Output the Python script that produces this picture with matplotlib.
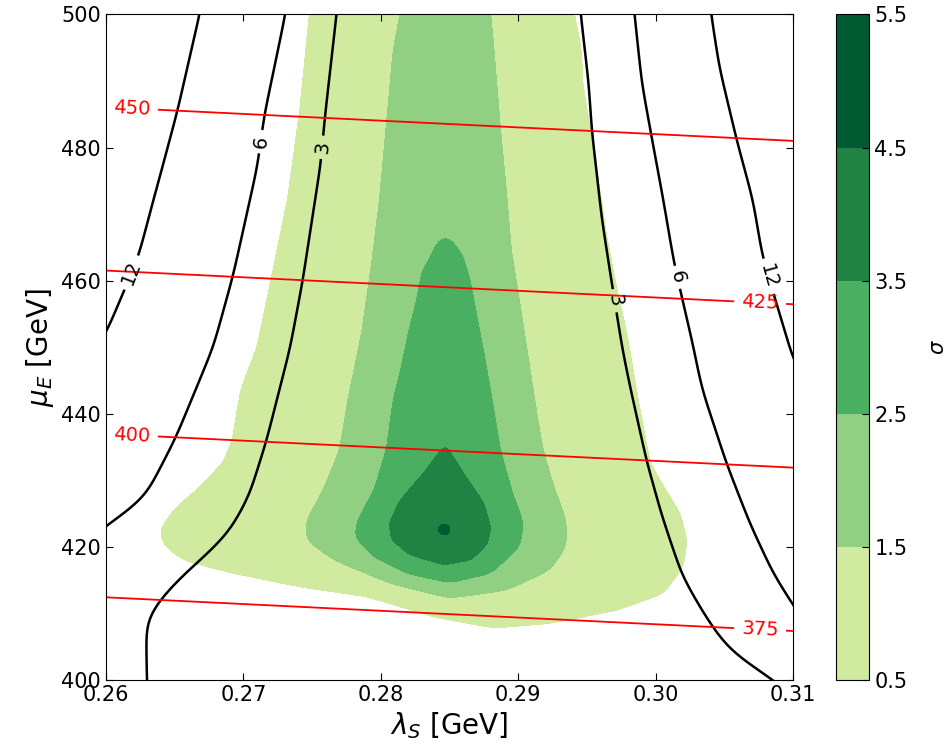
import numpy as np
import matplotlib
matplotlib.use('Agg')
import matplotlib.pyplot as plt
from matplotlib.path import Path

# --- significance regions (sigma), outlines ---
sig_levels = [0.5, 1.5, 2.5, 3.5, 4.5, 5.5]
sig_colors = ['#d0eba0', '#91d083', '#4baf62', '#208343', '#005a32']

s1_x = [0.2750, 0.2748, 0.2741, 0.2732, 0.2722, 0.2710, 0.2698, 0.2692, 0.2685, 0.2668,
        0.2649, 0.2639, 0.2641, 0.2656, 0.2693, 0.2741, 0.2790, 0.2838, 0.2882, 0.2923,
        0.2972, 0.3006, 0.3020, 0.3023, 0.3018, 0.3006, 0.2996, 0.2986, 0.2980, 0.2971,
        0.2964, 0.2957, 0.2951, 0.2947, 0.2946, 0.2941, 0.2939]
s1_y = [504, 500, 485.6, 472.1, 462.1, 450.1, 443.6, 436.1, 432.6, 429.0,
        425.5, 422.5, 420.5, 418.0, 416.0, 414.0, 412.5, 409.5, 407.8, 408.5,
        410.5, 413.0, 417.0, 421.0, 425.0, 429.0, 432.6, 443.6, 451.1, 459.6,
        467.1, 477.1, 484.6, 489.7, 494.7, 500, 504]

s2_x = [0.2816, 0.2814, 0.2809, 0.2805, 0.2799, 0.2793, 0.2786, 0.2776, 0.2770, 0.2758,
        0.2745, 0.2746, 0.2766, 0.2807, 0.2850, 0.2892, 0.2923, 0.2935, 0.2935, 0.2926,
        0.2918, 0.2912, 0.2902, 0.2895, 0.2892, 0.2887, 0.2882, 0.2880, 0.2878]
s2_y = [504, 500, 494.7, 485.6, 472.1, 462.1, 452.1, 442.1, 434.6, 428.5,
        423.5, 421.0, 418.0, 414.5, 412.3, 413.5, 416.5, 420.0, 424.0, 429.0,
        434.6, 442.1, 455.6, 464.6, 472.1, 483.1, 495.7, 500, 504]

s3_x = [0.2847, 0.2842, 0.2836, 0.2830, 0.2826, 0.2820, 0.2815, 0.2809, 0.2804, 0.2795,
        0.2783, 0.2781, 0.2795, 0.2819, 0.2850, 0.2880, 0.2901, 0.2904, 0.2896, 0.2887,
        0.2881, 0.2876, 0.2870, 0.2865, 0.2860, 0.2852]
s3_y = [466.8, 466.0, 463.6, 461.4, 457.1, 452.1, 447.1, 442.1, 434.6, 428.5,
        424.0, 421.5, 418.5, 416.0, 414.6, 416.0, 420.0, 423.5, 428.0, 434.6,
        442.1, 448.1, 454.6, 460.1, 463.6, 466.0]

s4_x = [0.2847, 0.2831, 0.2814, 0.2806, 0.2808, 0.2821, 0.2846, 0.2865, 0.2878, 0.2880,
        0.2875, 0.2862]
s4_y = [435.4, 431.1, 427.0, 423.5, 421.0, 418.8, 417.3, 418.0, 420.5, 423.0,
        426.6, 430.5]

s5_x = [0.28462, 0.28494, 0.28507, 0.28494, 0.28462, 0.28430, 0.28417, 0.28430]
s5_y = [423.45, 423.2, 422.6, 422.0, 421.75, 422.0, 422.6, 423.2]

# --- black contours (3, 6, 12), left and right branches, (y, x) ---
l12_y = [396, 420, 440, 452.1, 463.6, 472.1, 485.6, 500, 504]
l12_x = [0.2400, 0.2500, 0.2563, 0.2601, 0.2625, 0.2636, 0.2654, 0.2670, 0.2674]
l6_y = [396, 415, 423.8, 427.5, 436.6, 450.1, 460.6, 477.1, 484.9, 500, 504]
l6_x = [0.2470, 0.2540, 0.2600, 0.2627, 0.2650, 0.2677, 0.2691, 0.2709, 0.2714, 0.2730, 0.2733]
l3_y = [396, 400, 407.5, 409.5, 412.0, 416.0, 419.0, 422.5, 428.1, 436.1, 450.1, 460.1,
        477.6, 484.4, 500, 504]
l3_x = [0.2629, 0.2628, 0.2627, 0.2628, 0.2636, 0.2654, 0.2671, 0.2688, 0.2702, 0.2714,
        0.2731, 0.2740, 0.2753, 0.2756, 0.2764, 0.2766]
r3_y = [396, 400.3, 402.8, 405.0, 410.0, 416.0, 425.0, 433.1, 446.1, 450.1, 459.1, 469.6,
        482.6, 489.7, 500, 504]
r3_x = [0.3125, 0.3093, 0.3074, 0.3057, 0.3040, 0.3023, 0.3008, 0.2997, 0.2983, 0.2979,
        0.2972, 0.2964, 0.2957, 0.2955, 0.2949, 0.2947]
r6_y = [396, 411.5, 416.0, 423.5, 432.6, 443.6, 450.1, 458.1, 462.6, 472.1, 482.1, 489.7, 500, 504]
r6_x = [0.3150, 0.3100, 0.3086, 0.3069, 0.3052, 0.3035, 0.3029, 0.3020, 0.3015, 0.3007,
        0.2998, 0.2991, 0.2986, 0.2984]
r12_y = [396, 420, 440, 447.3, 456.1, 463.6, 472.1, 481.1, 492.2, 500, 504]
r12_x = [0.3250, 0.3190, 0.3125, 0.3100, 0.3087, 0.3076, 0.3069, 0.3057, 0.3044, 0.3038, 0.3036]
chi_levels = [3, 6, 12]
chi_label_pos = [(0.2620, 461.1), (0.2712, 480.9), (0.2754, 480.1),
                 (0.2974, 457.1), (0.3018, 460.6), (0.3081, 460.6)]

# --- red lines (mass contours): y where each crosses x=0.26 and x=0.31 ---
red_levels = [375, 400, 425, 450]
red_y_left = [412.5, 436.8, 461.6, 486.1]
red_y_right = [407.4, 431.9, 456.45, 481.0]
red_label_pos = [(0.2619, 486.0), (0.2619, 436.8), (0.3076, 456.6), (0.3076, 407.6)]

# grid
gx = np.linspace(0.2575, 0.3125, 700)
gy = np.linspace(397.5, 502.5, 700)
X, Y = np.meshgrid(gx, gy)
pts = np.column_stack([X.ravel(), Y.ravel()])


def blur(a, n):
    h = int(3 * n)
    k = np.exp(-0.5 * (np.arange(-h, h + 1) / n) ** 2)
    k /= k.sum()
    a = np.pad(a, h, mode='edge')
    a = np.apply_along_axis(lambda r: np.convolve(r, k, mode='valid'), 1, a)
    a = np.apply_along_axis(lambda c: np.convolve(c, k, mode='valid'), 0, a)
    return a


sig = np.zeros_like(X)
outlines = [(s1_x, s1_y, 6.0), (s2_x, s2_y, 6.0), (s3_x, s3_y, 5.0),
            (s4_x, s4_y, 3.0), (s5_x, s5_y, 1.5)]
for px, py, n in outlines:
    inside = Path(np.column_stack([px, py])).contains_points(pts).reshape(X.shape)
    sig += blur(inside.astype(float), n)

# chi field built row by row from the branch positions
chi = np.zeros_like(X)
for i, yy in enumerate(gy):
    a12 = np.interp(yy, l12_y, l12_x)
    a6 = np.interp(yy, l6_y, l6_x)
    a3 = np.interp(yy, l3_y, l3_x)
    b3 = np.interp(yy, r3_y, r3_x)
    b6 = np.interp(yy, r6_y, r6_x)
    b12 = np.interp(yy, r12_y, r12_x)
    xs = [a12 - 0.02, a12, a6, a3, 0.5 * (a3 + b3), b3, b6, b12, b12 + 0.02]
    vs = [24, 12, 6, 3, 0, 3, 6, 12, 24]
    chi[i] = np.interp(gx, xs, vs)
chi = blur(chi, 12.0)

# red field: plane fitted through the line crossings
A = []
b = []
for lv, yl, yr in zip(red_levels, red_y_left, red_y_right):
    A.append([1, 0.26, yl]); b.append(lv)
    A.append([1, 0.31, yr]); b.append(lv)
coef = np.linalg.lstsq(np.array(A), np.array(b), rcond=None)[0]
mass = coef[0] + coef[1] * X + coef[2] * Y

plt.rcParams['xtick.direction'] = 'in'
plt.rcParams['ytick.direction'] = 'in'
plt.rcParams['xtick.top'] = True
plt.rcParams['ytick.right'] = True
plt.rcParams['xtick.major.size'] = 5
plt.rcParams['ytick.major.size'] = 5

fig = plt.figure(figsize=(9.47, 7.5), dpi=100)
ax = fig.add_axes([0.1119, 0.0933, 0.7255, 0.8874])
cax = fig.add_axes([0.8825, 0.0933, 0.0355, 0.8874])

cf = ax.contourf(X, Y, sig, levels=sig_levels, colors=sig_colors)
cs = ax.contour(X, Y, chi, levels=chi_levels, colors='k', linewidths=1.8)
ax.clabel(cs, fmt='%d', fontsize=14, inline=True, manual=chi_label_pos)
cr = ax.contour(X, Y, mass, levels=red_levels, colors='r', linewidths=1.3)
ax.clabel(cr, fmt='%d', fontsize=14, inline=True, manual=red_label_pos)

ax.set_xlim(0.26, 0.31)
ax.set_ylim(400, 500)
ax.set_xticks([0.26, 0.27, 0.28, 0.29, 0.30, 0.31])
ax.set_xticklabels(['0.26', '0.27', '0.28', '0.29', '0.30', '0.31'])
ax.set_yticks([400, 420, 440, 460, 480, 500])
ax.tick_params(labelsize=15)
ax.set_xlabel(r'$\lambda_S$ [GeV]', fontsize=20)
ax.set_ylabel(r'$\mu_E$ [GeV]', fontsize=20)

cb = fig.colorbar(cf, cax=cax, ticks=sig_levels)
cb.ax.tick_params(labelsize=15, direction='in')
cb.set_label(r'$\sigma$', fontsize=15, labelpad=15)

fig.savefig('out.png', dpi=100)
